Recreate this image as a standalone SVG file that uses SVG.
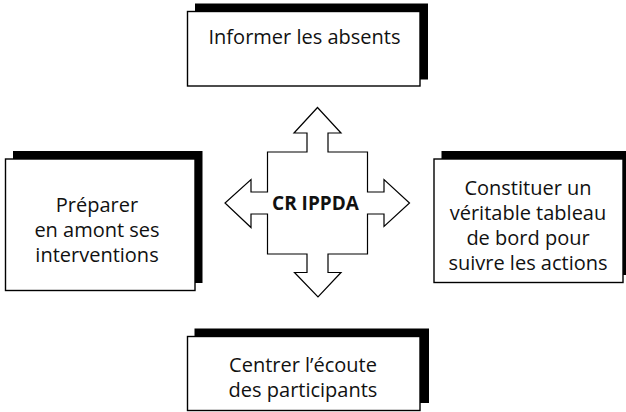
<svg xmlns="http://www.w3.org/2000/svg" width="626" height="412" viewBox="0 0 626 412">
<style>
.shadow{fill:#000}
.box{fill:#fff;stroke:#000;stroke-width:1.4}
.t{font-family:"Open Sans","Noto Sans","Liberation Sans",sans-serif;font-size:20px;fill:#111;text-anchor:middle}
.c{font-family:"Open Sans","Noto Sans","Liberation Sans",sans-serif;font-size:19px;font-weight:bold;fill:#111;text-anchor:middle}
.cross{fill:#fff;stroke:#000;stroke-width:1.2;stroke-linejoin:miter}
</style>
<rect width="626" height="412" fill="#fff"/>
<g id="connectors">
<path class="cross" d="M317.5,107.5 L341,133 L328,133 L328,152 L367.5,152 L367.5,192 L384,192 L384,179.5 L409.5,203 L384,226.5 L384,214 L367.5,214 L367.5,254 L328,254 L328,272.5 L341,272.5 L318,297 L294.5,272.5 L307,272.5 L307,254 L267.5,254 L267.5,214 L251,214 L251,227.5 L225,203 L251,179.5 L251,192 L267.5,192 L267.5,152 L307,152 L307,133 L294,133 Z"/>
</g>
<g id="center">
<text class="c" x="315.5" y="210">CR IPPDA</text>
</g>
<g id="top">
<rect class="shadow" x="195" y="3.5" width="233" height="76"/>
<rect class="box" x="187.5" y="11.5" width="232.5" height="74.5"/>
<text class="t" x="304.5" y="43.5">Informer les absents</text>
</g>
<g id="left">
<rect class="shadow" x="13" y="151" width="189.5" height="132"/>
<rect class="box" x="5.5" y="159" width="189.5" height="131.5"/>
<text class="t" x="97" y="211.5">Préparer</text>
<text class="t" x="97" y="236.5">en amont ses</text>
<text class="t" x="97" y="261.5">interventions</text>
</g>
<g id="right">
<rect class="shadow" x="441.5" y="151" width="189" height="124"/>
<rect class="box" x="434" y="159" width="189" height="123.5"/>
<text class="t" x="528" y="195">Constituer un</text>
<text class="t" x="528" y="220">véritable tableau</text>
<text class="t" x="528" y="245">de bord pour</text>
<text class="t" x="528" y="270">suivre les actions</text>
</g>
<g id="bottom">
<rect class="shadow" x="194.5" y="328.5" width="234.5" height="74.5"/>
<rect class="box" x="187.5" y="336.5" width="232.5" height="74"/>
<text class="t" x="303" y="371.5">Centrer l’écoute</text>
<text class="t" x="303" y="396.5">des participants</text>
</g>
</svg>
